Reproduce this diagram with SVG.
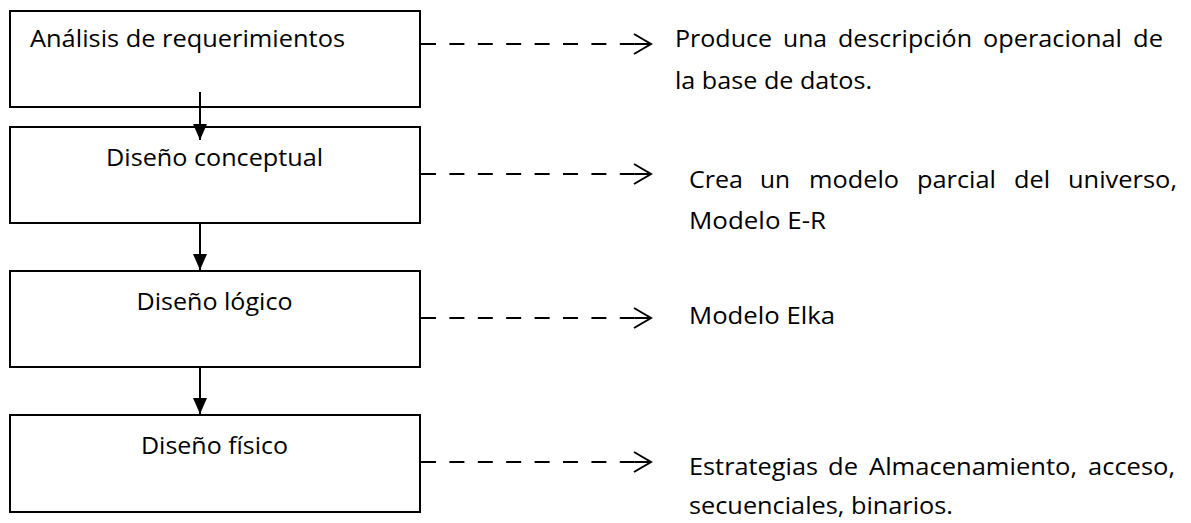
<svg xmlns="http://www.w3.org/2000/svg" width="1191" height="523" viewBox="0 0 1191 523">
  <style>
    .box { fill: #ffffff; stroke: #000000; stroke-width: 2; }
    .t { font-family: "Open Sans", "Liberation Sans", sans-serif; font-size: 24px; fill: #000000; }
    .flow { fill: none; stroke: #000000; stroke-width: 2; marker-end: url(#solid); }
    .dash { fill: none; stroke: #000000; stroke-width: 2; stroke-dasharray: 15 13.4; marker-end: url(#open); }
  </style>
  <defs>
    <marker id="solid" markerUnits="userSpaceOnUse" markerWidth="16" markerHeight="16" viewBox="0 0 16 14" refX="16" refY="7" orient="auto">
      <path d="M0,0 L16,7 L0,14 Z" fill="#000000"/>
    </marker>
    <marker id="open" markerUnits="userSpaceOnUse" markerWidth="22" markerHeight="26" viewBox="0 0 22 26" refX="19" refY="13" orient="auto" overflow="visible">
      <path d="M2,3 L19,13 L2,23 M3,13 H19" fill="none" stroke="#000000" stroke-width="2" stroke-dasharray="none"/>
    </marker>
  </defs>
  <rect width="1191" height="523" fill="#ffffff"/>

  <g id="node-analisis">
    <rect class="box" x="10" y="11" width="410" height="96"/>
    <text class="t" x="30" y="47" textLength="315" lengthAdjust="spacingAndGlyphs">Análisis de requerimientos</text>
  </g>
  <g id="node-conceptual">
    <rect class="box" x="10" y="127" width="410" height="96"/>
    <text class="t" x="214.5" y="166" text-anchor="middle" textLength="217" lengthAdjust="spacingAndGlyphs">Diseño conceptual</text>
  </g>
  <g id="node-logico">
    <rect class="box" x="10" y="271" width="410" height="96"/>
    <text class="t" x="214.5" y="310" text-anchor="middle" textLength="156" lengthAdjust="spacingAndGlyphs">Diseño lógico</text>
  </g>
  <g id="node-fisico">
    <rect class="box" x="10" y="415" width="410" height="97"/>
    <text class="t" x="214.5" y="454" text-anchor="middle" textLength="147" lengthAdjust="spacingAndGlyphs">Diseño físico</text>
  </g>

  <g id="desc-analisis">
    <text class="t" y="47"><tspan x="675" textLength="97" lengthAdjust="spacingAndGlyphs">Produce</tspan><tspan x="783" textLength="44" lengthAdjust="spacingAndGlyphs">una</tspan><tspan x="838" textLength="134" lengthAdjust="spacingAndGlyphs">descripción</tspan><tspan x="983" textLength="139" lengthAdjust="spacingAndGlyphs">operacional</tspan><tspan x="1133" textLength="30" lengthAdjust="spacingAndGlyphs">de</tspan></text>
    <text class="t" x="675" y="89" textLength="197" lengthAdjust="spacingAndGlyphs">la base de datos.</text>
  </g>
  <g id="desc-conceptual">
    <text class="t" y="188"><tspan x="689" textLength="54" lengthAdjust="spacingAndGlyphs">Crea</tspan><tspan x="760" textLength="30" lengthAdjust="spacingAndGlyphs">un</tspan><tspan x="809" textLength="90" lengthAdjust="spacingAndGlyphs">modelo</tspan><tspan x="917" textLength="79" lengthAdjust="spacingAndGlyphs">parcial</tspan><tspan x="1014" textLength="36" lengthAdjust="spacingAndGlyphs">del</tspan><tspan x="1068" textLength="109" lengthAdjust="spacingAndGlyphs">universo,</tspan></text>
    <text class="t" x="689" y="229" textLength="137" lengthAdjust="spacingAndGlyphs">Modelo E-R</text>
  </g>
  <g id="desc-logico">
    <text class="t" x="689" y="324" textLength="146" lengthAdjust="spacingAndGlyphs">Modelo Elka</text>
  </g>
  <g id="desc-fisico">
    <text class="t" y="475"><tspan x="689" textLength="129" lengthAdjust="spacingAndGlyphs">Estrategias</tspan><tspan x="828" textLength="30" lengthAdjust="spacingAndGlyphs">de</tspan><tspan x="869" textLength="208" lengthAdjust="spacingAndGlyphs">Almacenamiento,</tspan><tspan x="1088" textLength="87" lengthAdjust="spacingAndGlyphs">acceso,</tspan></text>
    <text class="t" x="689" y="514" textLength="264" lengthAdjust="spacingAndGlyphs">secuenciales, binarios.</text>
  </g>

  <g id="connectors">
    <path class="flow" d="M200,92 V140"/>
    <path class="flow" d="M200,223 V270"/>
    <path class="flow" d="M200,367 V414"/>
    <path class="dash" d="M421,44 H651"/>
    <path class="dash" d="M421,174 H651"/>
    <path class="dash" d="M421,318 H651"/>
    <path class="dash" d="M421,462 H651"/>
  </g>
</svg>
